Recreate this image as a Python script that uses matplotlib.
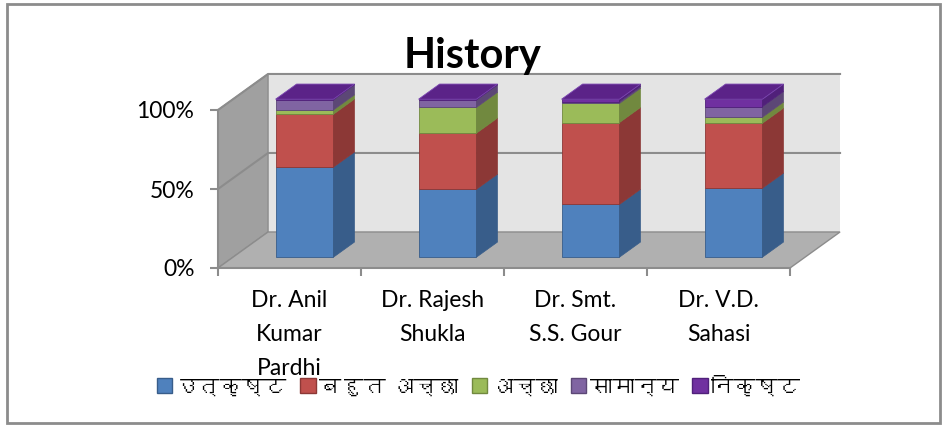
import matplotlib
matplotlib.use("Agg")
import matplotlib.pyplot as plt
from matplotlib import font_manager
from matplotlib.ft2font import FT2Font
from matplotlib.patches import Polygon, Rectangle, Patch
from matplotlib.ticker import PercentFormatter

# data (percent of responses per teacher)
teachers = ["Dr. Anil\nKumar\nPardhi", "Dr. Rajesh\nShukla", "Dr. Smt.\nS.S. Gour", "Dr. V.D.\nSahasi"]
grades = ["उत्कृष्ट", "बहुत अच्छा", "अच्छा", "सामान्य", "निकृष्ट"]
utkrisht = [57.0, 43.0, 33.4, 43.7]
bahut_achha = [33.5, 35.5, 51.8, 41.1]
achha = [2.7, 16.3, 12.1, 3.8]
samanya = [6.4, 4.7, 1.2, 6.7]
nikrisht = [0.4, 0.5, 1.5, 4.7]
series = [utkrisht, bahut_achha, achha, samanya, nikrisht]

front = ["#4F81BD", "#C0504D", "#9BBB59", "#8064A2", "#7030A0"]
side = ["#385D8A", "#8C3836", "#71893F", "#5C4776", "#50207A"]
top_col = "#5B2388"


# find some font that has devanagari glyphs
def deva_font():
    for f in font_manager.fontManager.ttflist:
        try:
            if 0x0915 in FT2Font(f.fname).get_charmap():
                return f.name
        except Exception:
            pass
    return None

fams = ["Lato"]
dv = deva_font()
if dv:
    fams.append(dv)
fams.append("DejaVu Sans")
plt.rcParams["font.family"] = fams

W, H = 951, 426
fig = plt.figure(figsize=(W / 100, H / 100), dpi=100)

# front of the plot box in pixels: x 218..790, y 268 (0%) .. 110 (100%)
ax = fig.add_axes([218 / W, (H - 268) / H, 572 / W, 158 / H])
ax.set_xlim(0, 4)
ax.set_ylim(0, 100)
ax.patch.set_visible(False)

DX, DY = 0.35, 22.8      # depth of the box
FD, BD = 0.30, 0.42      # bar front position / bar depth (fractions of box depth)
bw = 0.405
grid = "#8C8C8C"

# walls and floor
back = Polygon([(DX, DY), (4 + DX, DY), (4 + DX, 100 + DY), (DX, 100 + DY)],
               closed=True, fc="#E4E4E4", ec="none", zorder=0, clip_on=False)
left = Polygon([(0, 0), (DX, DY), (DX, 100 + DY), (0, 100)],
               closed=True, fc="#A0A0A0", ec=grid, lw=1, zorder=1, clip_on=False)
floor = Polygon([(0, 0), (4, 0), (4 + DX, DY), (DX, DY)],
                closed=True, fc="#B0B0B0", ec=grid, lw=1, zorder=1, clip_on=False)
for p in [back, left, floor]:
    ax.add_patch(p)
for g in [50, 100]:
    ax.plot([0, DX, 4 + DX], [g, g + DY, g + DY], color=grid, lw=1.5, zorder=1, clip_on=False)

# bars
x0 = [i + 0.5 - bw / 2 + FD * DX for i in range(len(teachers))]
bdx, bdy = BD * DX, BD * DY
base = [FD * DY] * len(teachers)
for k, vals in enumerate(series):
    ax.bar(x0, vals, bw, bottom=base, align="edge", color=front[k],
           edgecolor=side[k], lw=0.6, zorder=3, clip_on=False)
    for i, v in enumerate(vals):
        xr = x0[i] + bw
        y0, y1 = base[i], base[i] + v
        ax.add_patch(Polygon([(xr, y0), (xr + bdx, y0 + bdy), (xr + bdx, y1 + bdy), (xr, y1)],
                             closed=True, fc=side[k], ec=side[k], lw=0.5, zorder=3, clip_on=False))
    base = [b + v for b, v in zip(base, vals)]

for i in range(len(teachers)):
    yt = base[i]
    ax.add_patch(Polygon([(x0[i], yt), (x0[i] + bw, yt), (x0[i] + bw + bdx, yt + bdy), (x0[i] + bdx, yt + bdy)],
                         closed=True, fc=top_col, ec="#7A45B0", lw=0.6, zorder=4, clip_on=False))

# axes
for s in ["top", "right"]:
    ax.spines[s].set_visible(False)
for s in ["left", "bottom"]:
    ax.spines[s].set_color(grid)
    ax.spines[s].set_linewidth(1.5)
    ax.spines[s].set_zorder(2)
ax.set_yticks([0, 50, 100])
ax.yaxis.set_major_formatter(PercentFormatter(decimals=0))
ax.tick_params(axis="y", length=6, width=1.5, color=grid, pad=11, labelsize=16.5)
ax.set_xticks([0, 1, 2, 3, 4])
ax.set_xticklabels([])
ax.tick_params(axis="x", which="major", length=6, width=1.5, color=grid)
ax.set_xticks([0.5, 1.5, 2.5, 3.5], minor=True)
ax.set_xticklabels(teachers, minor=True, fontsize=16.5, linespacing=1.75)
ax.tick_params(axis="x", which="minor", length=0, pad=16)

fig.text(0.497, 0.868, "History", fontsize=30, fontweight="bold", ha="center", va="center")

handles = [Patch(fc=front[k], ec=side[k], lw=1) for k in range(len(grades))]
fig.legend(handles, grades, loc="center", bbox_to_anchor=(0.503, 0.092), ncol=5, frameon=False,
           fontsize=16, handlelength=0.7, handleheight=0.7, handletextpad=0.15, columnspacing=0.6)

# outer chart border
fig.add_artist(Rectangle((7 / W, 3 / H), 933 / W, 419 / H, transform=fig.transFigure,
                         fill=False, ec="#8C8C8C", lw=2))

fig.savefig("out.png", dpi=100)
